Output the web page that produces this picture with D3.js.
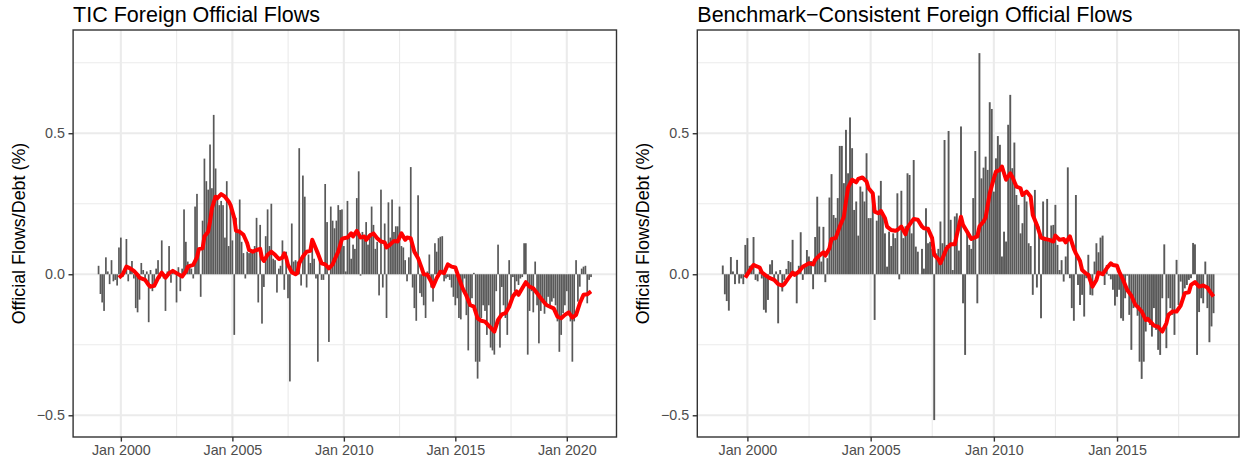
<!DOCTYPE html>
<html><head><meta charset="utf-8">
<script src="https://cdn.jsdelivr.net/npm/d3@7"></script>
<style>
body{margin:0;background:#fff}
svg{display:block}
text{font-family:"Liberation Sans",Arial,Helvetica,sans-serif}
</style>
</head><body>
<svg id="chart" width="1243" height="466"></svg>
<script>
// ---------------- DATA ----------------
const ticStart = "1999-01";
const ticValues = [
  0.03,-0.07,-0.10,-0.13,0.06,0.01,-0.035,0.05,-0.025,-0.02,-0.04,0.095,
  0.13,-0.01,0.02,0.125,-0.025,0.015,0.047,-0.015,-0.12,-0.135,-0.09,0.04,
  0.015,-0.015,0.01,-0.17,0.015,-0.06,-0.04,0.02,0.05,-0.015,0.12,-0.015,
  -0.13,0.01,0.10,-0.03,0.015,0.01,-0.10,0.025,-0.06,0.02,0.23,0.115,
  0.045,0.035,0.02,-0.015,0.24,0.285,0.09,-0.08,0.19,0.41,0.33,0.30,
  0.46,0.305,0.565,0.375,0.27,0.245,0.26,0.245,0.13,0.33,0.10,0.245,
  0.12,-0.215,0.2,0.15,0.265,0.115,0.075,-0.015,0.08,0.075,0.08,0.075,
  0.10,0.20,-0.10,0.175,-0.175,-0.045,0.135,0.23,0.10,0.25,0.055,0.05,
  -0.065,0.02,0.03,0.12,-0.055,0.08,-0.085,-0.38,0.18,0.045,0.05,0.045,
  0.447,-0.04,0.35,0.275,-0.047,0.07,0.04,0.12,0.055,-0.015,-0.31,0.055,
  -0.02,-0.02,0.32,0.185,-0.24,0.24,0.19,0.163,0.19,0.245,0.228,0.23,
  0.10,0.01,0.26,0.13,0.055,0.105,0.09,0.27,0.365,-0.005,0.15,0.13,
  0.185,0.105,0.145,0.24,0.175,0.09,0.115,-0.075,0.30,-0.047,0.18,-0.155,
  0.255,0.13,0.265,0.15,0.17,0.17,0.24,0.10,0.095,0.05,-0.025,0.06,
  0.38,-0.047,-0.12,-0.165,0.28,-0.067,-0.08,-0.11,-0.155,0.01,0.07,-0.047,
  -0.097,0.11,0.08,0.128,0.133,0.135,-0.025,-0.015,-0.01,-0.02,-0.047,-0.08,
  -0.11,-0.085,-0.155,-0.16,-0.06,-0.015,-0.145,-0.27,-0.115,-0.085,0.005,-0.31,
  -0.37,-0.31,-0.155,-0.11,-0.13,-0.215,-0.11,-0.26,-0.27,-0.285,-0.06,0.105,
  -0.26,-0.045,-0.11,-0.155,-0.215,0.05,-0.085,-0.01,-0.06,-0.025,-0.038,-0.015,
  -0.01,0.11,0.11,-0.285,-0.13,-0.06,-0.135,0.045,-0.11,-0.245,-0.13,-0.10,
  -0.14,-0.11,-0.08,-0.12,-0.097,-0.085,-0.11,-0.167,-0.275,-0.215,-0.138,-0.11,
  -0.06,-0.13,-0.167,-0.31,-0.167,0.05,-0.097,-0.044,0.02,0.027,0.03,-0.103,
  -0.02,-0.01
];
const ticLine = [
  ["1999-12",-0.012],["2000-02",0.0],["2000-04",0.027],["2000-06",0.021],["2000-08",0.012],["2000-10",-0.002],["2000-11",-0.012],
  ["2001-02",-0.02],["2001-04",-0.038],["2001-05",-0.044],["2001-07",-0.041],["2001-09",-0.014],["2001-11",0.006],
  ["2002-01",-0.012],["2002-03",0.004],["2002-05",0.012],["2002-07",0.004],["2002-10",-0.008],["2002-12",0.01],
  ["2003-01",0.027],["2003-04",0.033],["2003-06",0.06],["2003-07",0.089],["2003-09",0.092],["2003-10",0.134],["2003-12",0.151],
  ["2004-01",0.187],["2004-02",0.234],["2004-04",0.275],["2004-05",0.27],["2004-07",0.284],["2004-09",0.275],["2004-11",0.258],["2004-12",0.246],
  ["2005-02",0.199],["2005-03",0.154],["2005-05",0.151],["2005-07",0.14],["2005-09",0.11],["2005-10",0.086],["2005-12",0.08],
  ["2006-02",0.086],["2006-04",0.09],["2006-05",0.057],["2006-06",0.047],["2006-08",0.069],["2006-10",0.08],["2006-12",0.069],
  ["2007-02",0.054],["2007-04",0.059],["2007-05",0.074],["2007-06",0.059],["2007-07",0.033],["2007-09",0.007],["2007-11",0.0],["2007-12",0.004],
  ["2008-01",0.039],["2008-03",0.063],["2008-05",0.08],["2008-07",0.083],["2008-08",0.122],["2008-09",0.106],["2008-11",0.074],
  ["2009-01",0.039],["2009-03",0.035],["2009-05",0.021],["2009-07",0.035],["2009-08",0.051],["2009-10",0.08],["2009-12",0.125],
  ["2010-01",0.128],["2010-03",0.13],["2010-05",0.145],["2010-06",0.134],["2010-08",0.154],["2010-10",0.13],["2010-12",0.134],
  ["2011-01",0.122],["2011-03",0.137],["2011-05",0.145],["2011-07",0.128],["2011-09",0.116],["2011-11",0.113],["2011-12",0.095],
  ["2012-02",0.106],["2012-04",0.118],["2012-06",0.116],["2012-08",0.145],["2012-10",0.122],["2012-11",0.13],
  ["2013-01",0.128],["2013-03",0.08],["2013-05",0.057],["2013-07",0.021],["2013-08",0.0],["2013-10",-0.002],["2013-12",-0.026],
  ["2014-01",-0.044],["2014-03",-0.014],["2014-05",0.009],["2014-07",0.004],["2014-09",0.035],["2014-11",0.027],
  ["2015-01",0.024],["2015-03",-0.014],["2015-05",-0.05],["2015-07",-0.076],["2015-09",-0.109],["2015-11",-0.115],
  ["2016-01",-0.156],["2016-03",-0.165],["2016-05",-0.168],["2016-07",-0.182],["2016-08",-0.189],["2016-10",-0.203],["2016-12",-0.162],
  ["2017-02",-0.142],["2017-04",-0.138],["2017-06",-0.115],["2017-08",-0.079],["2017-10",-0.061],["2017-11",-0.073],
  ["2018-01",-0.05],["2018-03",-0.028],["2018-05",-0.044],["2018-07",-0.05],["2018-09",-0.067],["2018-11",-0.085],
  ["2019-02",-0.109],["2019-04",-0.115],["2019-06",-0.121],["2019-08",-0.15],["2019-10",-0.156],["2019-12",-0.144],
  ["2020-02",-0.135],["2020-04",-0.154],["2020-06",-0.144],["2020-08",-0.103],["2020-10",-0.073],["2020-12",-0.071],
  ["2021-02",-0.061]
];

const bcStart = "1999-01";
const bcValues = [
  0.031,-0.071,-0.095,-0.129,0.061,0.01,-0.035,0.051,-0.033,-0.015,-0.035,0.104,
  0.128,0.03,0.033,0.132,-0.02,-0.025,0.01,-0.015,-0.126,-0.136,-0.091,0.035,
  0.05,-0.015,0.01,-0.174,0.015,-0.061,-0.02,0.019,0.047,0.043,0.122,0.01,
  -0.103,0.03,0.149,-0.02,0.033,0.086,0.063,0.047,-0.053,0.132,0.275,0.169,
  0.045,0.168,-0.028,0.057,0.272,0.355,0.21,0.2,0.27,0.455,0.455,0.323,
  0.512,0.358,0.556,0.447,0.228,0.258,0.137,0.311,0.293,0.258,0.429,0.199,
  0.199,0.29,-0.162,0.19,0.279,0.331,0.205,0.145,0.027,0.151,0.1,0.145,
  0.128,0.287,-0.018,0.296,0.128,0.17,0.358,0.352,0.145,0.405,0.098,0.08,
  0.0,0.09,0.02,0.234,0.11,0.115,0.09,-0.517,0.074,0.09,0.187,0.11,
  0.476,0.104,0.508,0.193,0.015,0.205,0.216,0.084,0.524,-0.103,-0.286,0.145,
  0.104,0.09,0.27,0.437,-0.103,0.784,0.34,0.378,0.417,0.37,0.61,0.586,
  0.293,0.411,0.49,0.459,0.063,0.151,0.116,0.53,0.636,0.376,0.467,0.281,
  0.246,0.145,0.181,0.293,0.258,0.11,0.1,-0.073,0.299,-0.047,0.169,-0.156,
  0.258,0.128,0.267,0.116,0.173,0.175,0.246,0.104,0.015,0.05,-0.026,0.063,
  0.379,-0.014,-0.12,-0.165,0.281,-0.038,-0.109,-0.073,-0.15,-0.014,0.069,-0.073,
  -0.075,0.045,0.11,0.078,0.13,0.137,-0.038,0.033,-0.005,-0.018,-0.055,-0.111,
  -0.08,-0.055,-0.156,-0.165,-0.085,-0.005,-0.144,-0.268,-0.12,-0.109,-0.147,-0.31,
  -0.371,-0.31,-0.203,-0.156,-0.18,-0.221,-0.12,-0.197,-0.268,-0.286,-0.085,0.106,
  -0.262,-0.085,-0.12,-0.144,-0.215,0.051,-0.109,-0.026,-0.085,-0.05,-0.038,-0.02,
  -0.014,0.111,0.106,-0.286,-0.134,-0.085,-0.103,0.045,-0.12,-0.241,-0.185,-0.138
];
const bcLine = [
  ["1999-12",-0.012],["2000-02",0.012],["2000-04",0.033],["2000-05",0.03],["2000-07",0.024],["2000-08",0.007],["2000-10",-0.005],["2000-12",-0.014],
  ["2001-02",-0.02],["2001-04",-0.035],["2001-06",-0.04],["2001-07",-0.035],["2001-09",-0.014],["2001-11",0.006],["2001-12",-0.002],
  ["2002-02",0.009],["2002-04",0.027],["2002-06",0.035],["2002-07",0.039],["2002-09",0.035],["2002-10",0.051],["2002-12",0.066],
  ["2003-02",0.078],["2003-03",0.066],["2003-05",0.092],["2003-06",0.125],["2003-08",0.128],["2003-10",0.169],["2003-12",0.204],
  ["2004-01",0.258],["2004-02",0.307],["2004-04",0.335],["2004-06",0.326],["2004-07",0.338],["2004-09",0.343],["2004-11",0.329],["2004-12",0.305],
  ["2005-02",0.287],["2005-03",0.222],["2005-05",0.216],["2005-06",0.225],["2005-08",0.199],["2005-09",0.169],["2005-11",0.157],
  ["2006-01",0.154],["2006-02",0.157],["2006-04",0.169],["2006-06",0.142],["2006-07",0.165],["2006-09",0.187],["2006-10",0.196],["2006-12",0.193],
  ["2007-02",0.169],["2007-03",0.163],["2007-05",0.161],["2007-07",0.128],["2007-08",0.069],["2007-10",0.054],["2007-11",0.039],
  ["2008-01",0.074],["2008-02",0.092],["2008-04",0.106],["2008-06",0.106],["2008-07",0.139],["2008-09",0.204],["2008-10",0.175],["2008-12",0.151],
  ["2009-02",0.125],["2009-03",0.128],["2009-05",0.134],["2009-06",0.169],["2009-08",0.187],["2009-09",0.201],["2009-11",0.287],
  ["2010-01",0.34],["2010-02",0.364],["2010-04",0.37],["2010-05",0.382],["2010-07",0.335],["2010-09",0.358],["2010-10",0.346],["2010-12",0.311],
  ["2011-02",0.305],["2011-03",0.281],["2011-05",0.293],["2011-07",0.275],["2011-08",0.21],["2011-10",0.175],["2011-12",0.13],
  ["2012-02",0.125],["2012-04",0.122],["2012-06",0.116],["2012-07",0.137],["2012-09",0.122],["2012-11",0.125],["2012-12",0.113],
  ["2013-02",0.134],["2013-04",0.09],["2013-05",0.074],["2013-07",0.047],["2013-08",0.015],["2013-10",0.002],["2013-11",-0.002],
  ["2014-01",-0.044],["2014-03",-0.02],["2014-04",0.006],["2014-06",0.0],["2014-08",0.021],["2014-10",0.039],["2014-11",0.033],
  ["2015-01",0.03],["2015-02",0.009],["2015-04",-0.02],["2015-06",-0.056],["2015-08",-0.076],["2015-10",-0.109],["2015-11",-0.115],
  ["2016-01",-0.132],["2016-03",-0.162],["2016-04",-0.158],["2016-06",-0.174],["2016-07",-0.182],["2016-09",-0.186],["2016-11",-0.203],
  ["2017-01",-0.174],["2017-02",-0.144],["2017-04",-0.132],["2017-06",-0.132],["2017-08",-0.111],["2017-10",-0.067],["2017-12",-0.064],
  ["2018-01",-0.038],["2018-03",-0.028],["2018-05",-0.044],["2018-07",-0.04],["2018-09",-0.047],["2018-10",-0.059],["2018-12",-0.079]
];

const yTicks = [-0.5, 0, 0.5];
const yMinorTicks = [-0.25, 0.25, 0.75];
const xTickYears = [2000, 2005, 2010, 2015, 2020];
const yDomain = [-0.577, 0.866];
const titles = ["TIC Foreign Official Flows", "Benchmark\u2212Consistent Foreign Official Flows"];
const yLabel = "Official Flows/Debt (%)";

// ---------------- DRAW ----------------
const svg = d3.select("#chart");
const parseMonth = d3.utcParse("%Y-%m");
const DAY = 86400000;
const halfBar = 14 * DAY;
const fmtTick = d => "Jan " + d.getUTCFullYear();
const fmtY = d => (d < 0 ? "\u2212" : "") + Math.abs(d).toFixed(1);

function drawPanel(cfg) {
  const {left, right, top, bottom, start, values, line, title, labelX} = cfg;
  const g = svg.append("g");
  const t0 = parseMonth(start);
  const bars = values.map((v, i) => ({date: d3.utcMonth.offset(t0, i), v}));
  const first = bars[0].date.getTime() - 12.6 * DAY;
  const last = bars[bars.length - 1].date.getTime() + 12.6 * DAY;
  const pad = (last - first) * 0.05;
  const x = d3.scaleUtc().domain([new Date(first - pad), new Date(last + pad)]).range([left, right]);
  const y = d3.scaleLinear().domain(yDomain).range([bottom, top]);

  const majors = xTickYears.map(yr => new Date(Date.UTC(yr, 0, 1)));
  const allMaj = [new Date(Date.UTC(xTickYears[0] - 5, 0, 1)), ...majors, new Date(Date.UTC(xTickYears[xTickYears.length-1] + 5, 0, 1))];
  const minors = [];
  for (let i = 0; i < allMaj.length - 1; i++) minors.push(new Date((allMaj[i].getTime() + allMaj[i+1].getTime()) / 2));
  const [d0, d1] = x.domain();
  const inX = d => d >= d0 && d <= d1;

  // grid
  const grid = g.append("g");
  grid.selectAll("line.ymin").data(yMinorTicks).join("line")
    .attr("x1", left).attr("x2", right).attr("y1", d => y(d)).attr("y2", d => y(d))
    .attr("stroke", "#EBEBEB").attr("stroke-width", 1.1);
  grid.selectAll("line.xmin").data(minors.filter(inX)).join("line")
    .attr("x1", d => x(d)).attr("x2", d => x(d)).attr("y1", top).attr("y2", bottom)
    .attr("stroke", "#EBEBEB").attr("stroke-width", 1.1);
  grid.selectAll("line.ymaj").data(yTicks).join("line")
    .attr("x1", left).attr("x2", right).attr("y1", d => y(d)).attr("y2", d => y(d))
    .attr("stroke", "#EBEBEB").attr("stroke-width", 2.1);
  grid.selectAll("line.xmaj").data(majors.filter(inX)).join("line")
    .attr("x1", d => x(d)).attr("x2", d => x(d)).attr("y1", top).attr("y2", bottom)
    .attr("stroke", "#EBEBEB").attr("stroke-width", 2.1);

  // bars
  g.append("g").selectAll("rect").data(bars).join("rect")
    .attr("x", d => x(new Date(d.date.getTime() - halfBar)))
    .attr("width", d => x(new Date(d.date.getTime() + halfBar)) - x(new Date(d.date.getTime() - halfBar)))
    .attr("y", d => Math.min(y(d.v), y(0)))
    .attr("height", d => Math.abs(y(d.v) - y(0)))
    .attr("fill", "#595959");

  // line
  const lineData = line.map(([m, v]) => ({date: parseMonth(m), v}));
  g.append("path").datum(lineData)
    .attr("d", d3.line().x(d => x(d.date)).y(d => y(d.v)))
    .attr("fill", "none").attr("stroke", "#FF0000").attr("stroke-width", 4)
    .attr("stroke-linejoin", "round").attr("stroke-linecap", "butt");

  // border
  g.append("rect").attr("x", left).attr("y", top).attr("width", right - left).attr("height", bottom - top)
    .attr("fill", "none").attr("stroke", "#333333").attr("stroke-width", 1.4);

  // y axis
  const ya = g.append("g").attr("transform", `translate(${left},0)`)
    .call(d3.axisLeft(y).tickValues(yTicks).tickSize(4.6).tickPadding(3.6).tickFormat(fmtY));
  ya.select(".domain").remove();
  ya.selectAll("line").attr("stroke", "#333333").attr("stroke-width", 1.4);
  ya.selectAll("text").attr("fill", "#4D4D4D").style("font-size", "14.3px")
    .style("font-family", '"Liberation Sans",Arial,sans-serif');

  // x axis
  const xa = g.append("g").attr("transform", `translate(0,${bottom})`)
    .call(d3.axisBottom(x).tickValues(majors.filter(inX)).tickSize(4.6).tickPadding(3.6).tickFormat(fmtTick));
  xa.select(".domain").remove();
  xa.selectAll("line").attr("stroke", "#333333").attr("stroke-width", 1.4);
  xa.selectAll("text").attr("fill", "#4D4D4D").style("font-size", "14.3px")
    .style("font-family", '"Liberation Sans",Arial,sans-serif');

  // title
  g.append("text").attr("x", left).attr("y", 22).text(title)
    .style("font-size", "21.5px").attr("fill", "#000");
  // y label
  g.append("text").attr("transform", `translate(${labelX},${(top + bottom) / 2}) rotate(-90)`)
    .attr("text-anchor", "middle").text(yLabel).style("font-size", "17.9px").attr("fill", "#000");
}

drawPanel({left: 73.1, right: 616.5, top: 30, bottom: 437, start: ticStart, values: ticValues, line: ticLine, title: titles[0], labelX: 25});
drawPanel({left: 697.3, right: 1239, top: 30, bottom: 437, start: bcStart, values: bcValues, line: bcLine, title: titles[1], labelX: 649});
</script>
</body></html>
